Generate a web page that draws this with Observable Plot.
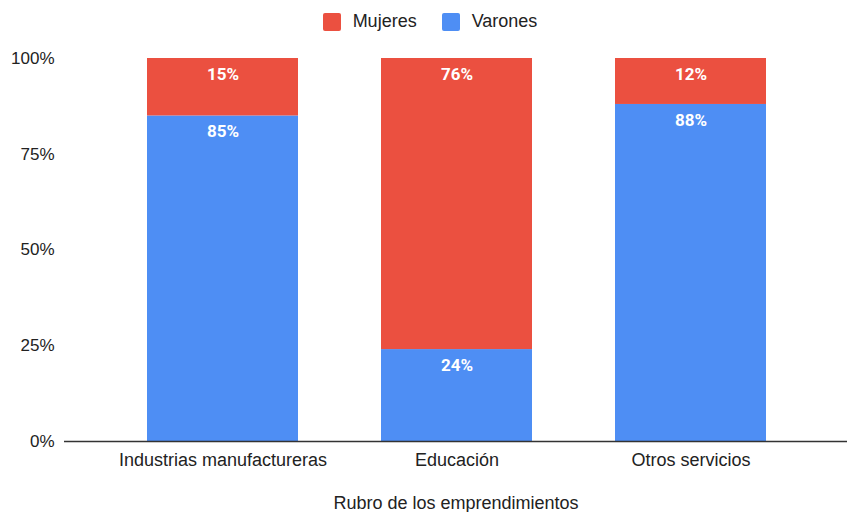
<!DOCTYPE html>
<html><head><meta charset="utf-8">
<script src="https://cdn.jsdelivr.net/npm/d3@7"></script>
<script src="https://cdn.jsdelivr.net/npm/@observablehq/plot@0.6"></script>
<style>
body{margin:0;background:#fff;font-family:"Liberation Sans",Arial,sans-serif;}
#legend{height:43px;display:flex;justify-content:center;align-items:center;font-size:18px;color:#222;padding-left:13px;box-sizing:border-box;width:847px;}
.item{display:flex;align-items:center;}
.sw{width:18px;height:18px;border-radius:2px;margin-right:12px;}
.item + .item{margin-left:25px;}
</style></head><body>
<div id="legend"></div>
<div id="chart"></div>
<script>
const categories = ["Industrias manufactureras", "Educación", "Otros servicios"];
const mujeres = [15, 76, 12];
const varones = [85, 24, 88];
const series = ["Mujeres", "Varones"];
const colors = ["#eb5040", "#4e8ef4"];
const yTicks = [0, 25, 50, 75, 100];
const xTitle = "Rubro de los emprendimientos";

const rows = [];
categories.forEach((c, i) => {
  rows.push({cat: c, series: "Varones", value: varones[i]});
  rows.push({cat: c, series: "Mujeres", value: mujeres[i]});
});

const legend = document.getElementById("legend");
series.forEach((s, i) => {
  const it = document.createElement("div");
  it.className = "item";
  it.innerHTML = `<span class="sw" style="background:${colors[i]}"></span><span>${s}</span>`;
  legend.appendChild(it);
});

const order = ["Varones", "Mujeres"];
const chart = Plot.plot({
  width: 847, height: 469,
  marginTop: 15, marginBottom: 71, marginLeft: 64, marginRight: 0,
  style: {fontFamily: "Liberation Sans, Arial, sans-serif", fontSize: "18px", color: "#222", background: "#fff"},
  x: {domain: categories, paddingInner: 0.353, paddingOuter: 0.3426, range: [65.5, 848.5]},
  y: {domain: [0, 100]},
  color: {domain: series, range: colors},
  marks: [
    Plot.gridY(yTicks.filter(d => d > 0), {stroke: "#ccc", strokeOpacity: 1, x1: 64, x2: 847}),
    Plot.axisY(yTicks, {tickSize: 0, tickPadding: 10, tickFormat: d => d + "%", fontSize: 17, label: null}),
    Plot.axisX({tickSize: 0, tickPadding: 12, label: xTitle, labelAnchor: "center", labelOffset: 67}),
    Plot.barY(rows, {x: "cat", y: "value", fill: "series", order}),
    Plot.ruleY([0], {stroke: "#333", strokeWidth: 1.5}),
    Plot.text(rows, Plot.stackY2({x: "cat", y: "value", z: "series", order,
      text: d => d.value + "%", dy: 16, fill: "white", fontWeight: "bold", fontSize: 17, fontFamily: "Roboto"}))
  ]
});
document.getElementById("chart").appendChild(chart);
</script></body></html>
